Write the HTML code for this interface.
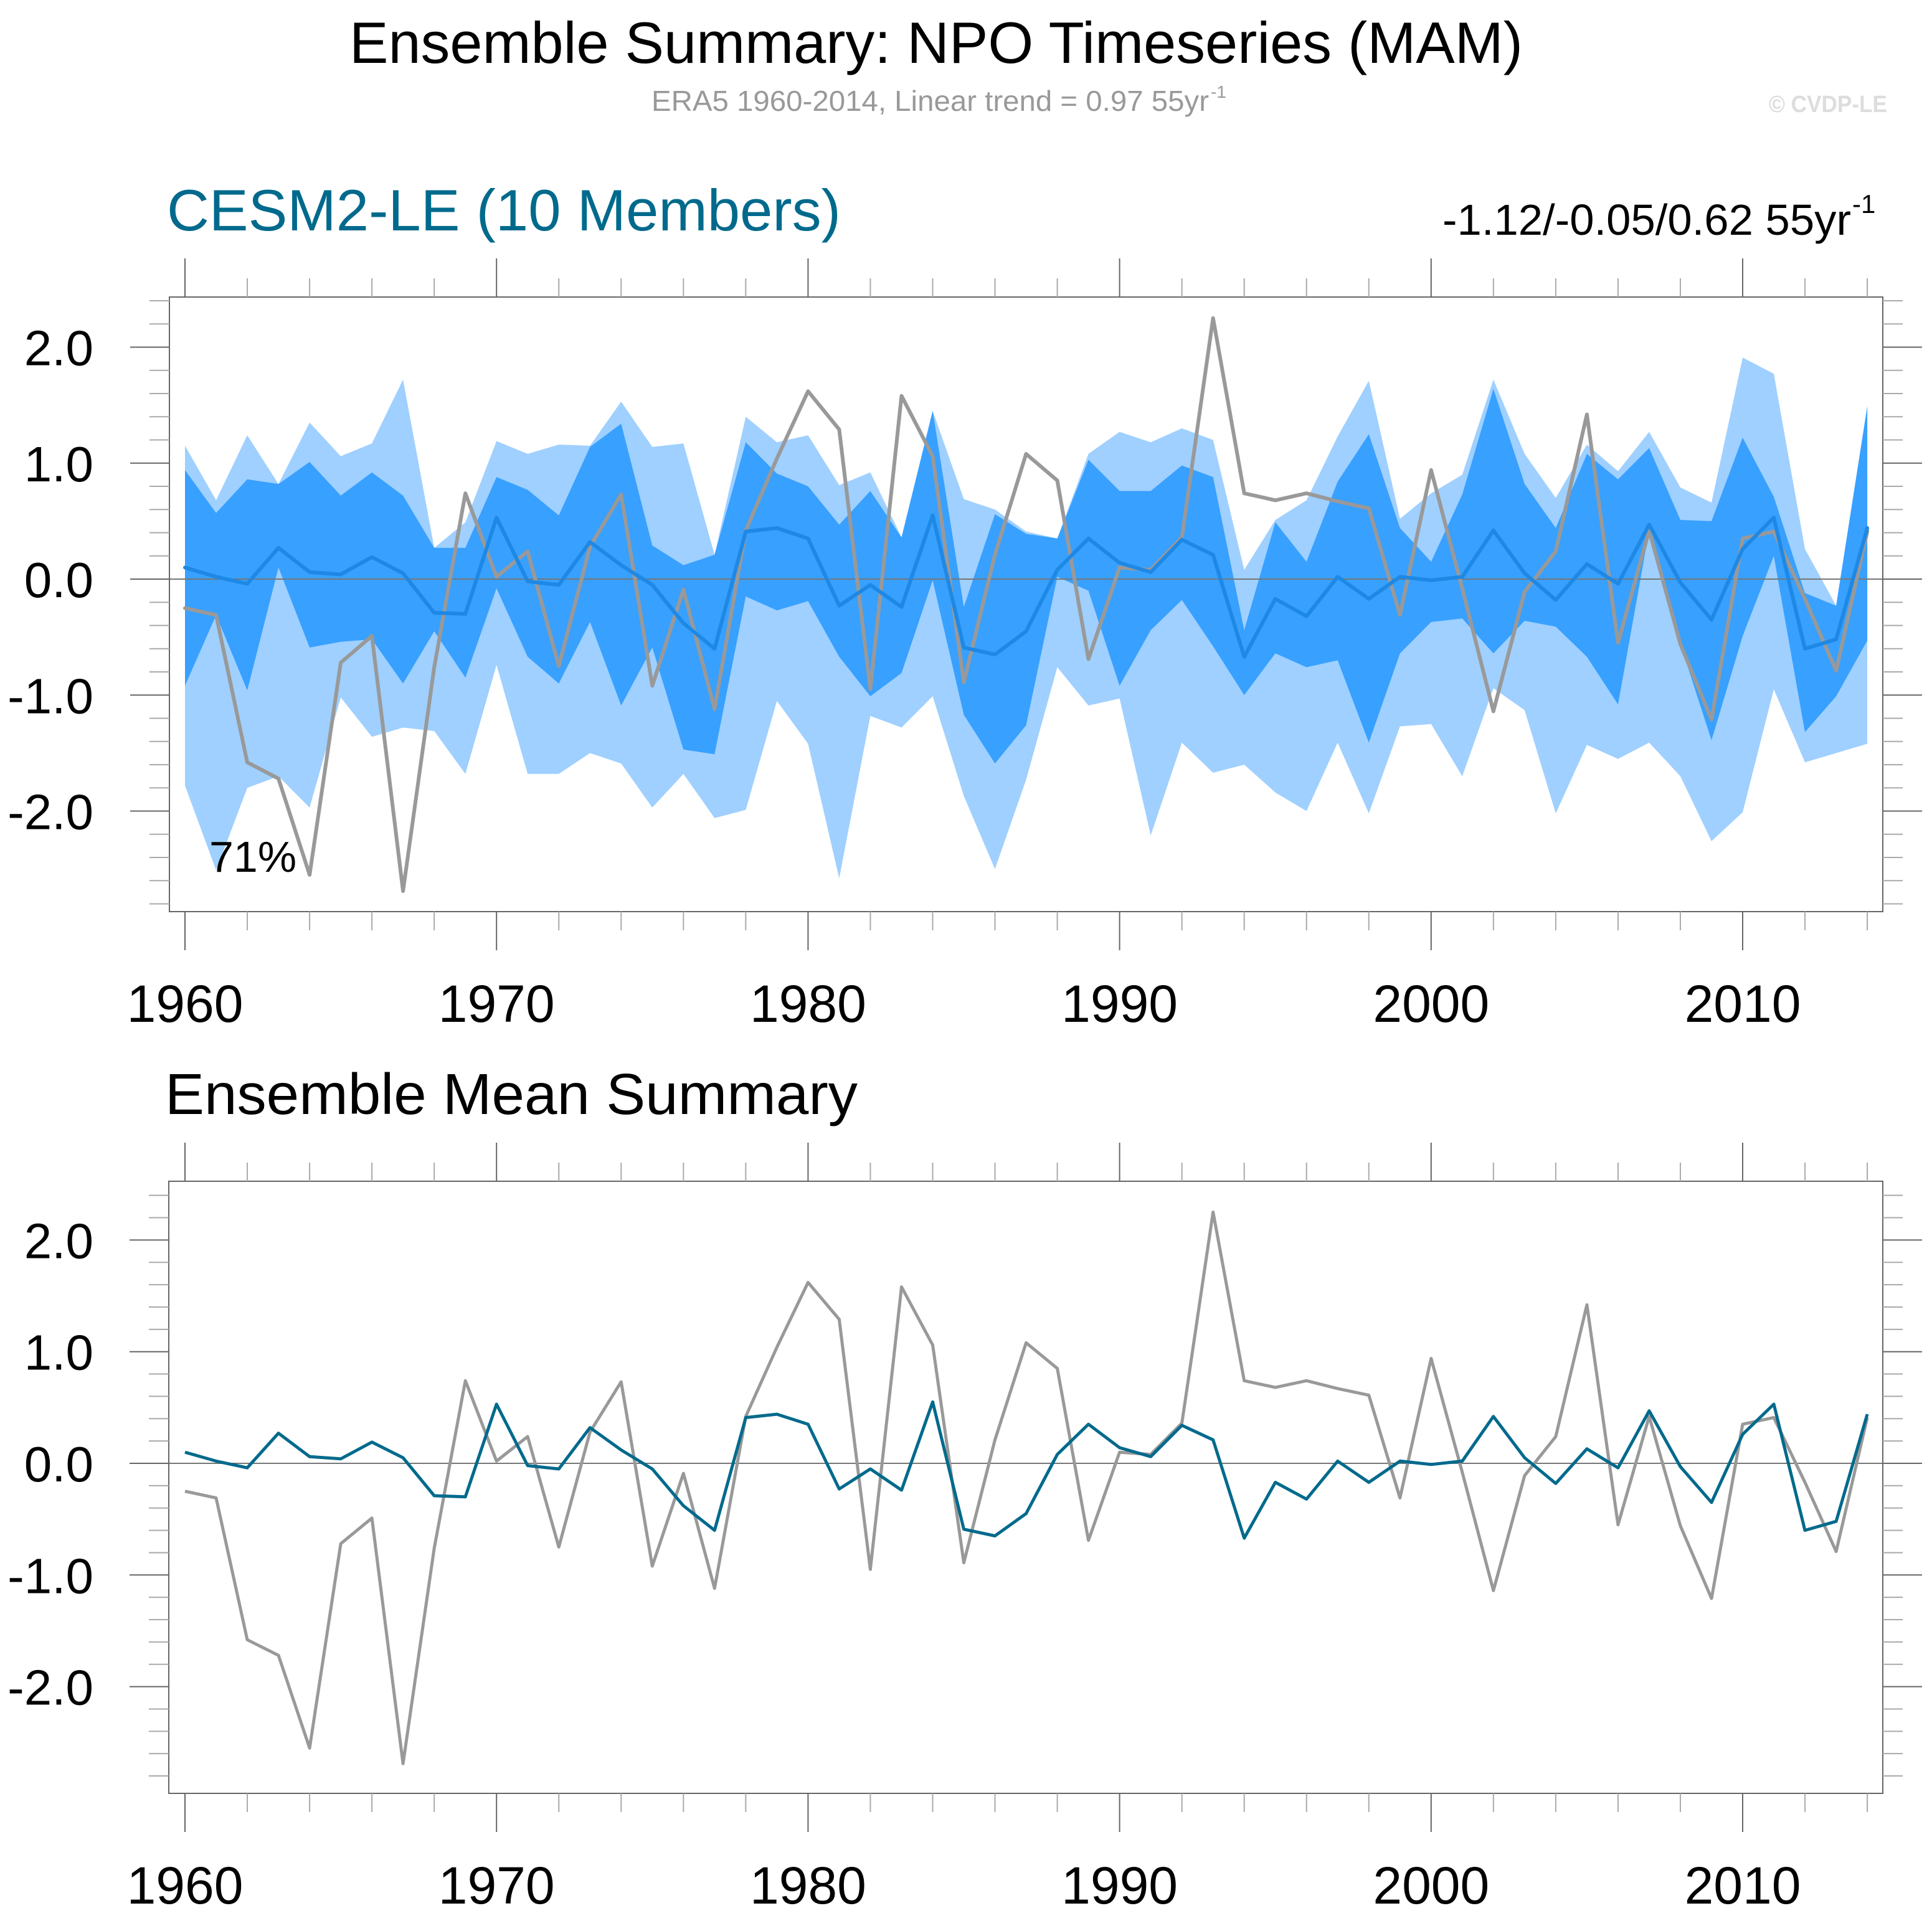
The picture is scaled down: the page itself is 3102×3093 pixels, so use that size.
<!DOCTYPE html>
<html><head><meta charset="utf-8"><style>
html,body{margin:0;padding:0;background:#fff;}
svg{display:block;font-family:"Liberation Sans",sans-serif;}
</style></head><body>
<svg id="chart" width="3102" height="3093" viewBox="0 0 3102 3093" xmlns="http://www.w3.org/2000/svg">
<text x="1503" y="101" font-size="94" text-anchor="middle" textLength="1884" lengthAdjust="spacingAndGlyphs">Ensemble Summary: NPO Timeseries (MAM)</text>
<text x="1046" y="178" font-size="46" fill="#999" textLength="895" lengthAdjust="spacingAndGlyphs">ERA5 1960-2014, Linear trend = 0.97 55yr</text>
<text x="1944" y="157" font-size="28" fill="#999">-1</text>
<text x="2840" y="180" font-size="38" font-weight="bold" fill="#ddd" textLength="190" lengthAdjust="spacingAndGlyphs">© CVDP-LE</text>
<text x="268" y="370" font-size="94" fill="#006a8c" textLength="1082" lengthAdjust="spacingAndGlyphs">CESM2-LE (10 Members)</text>
<text x="2316" y="377" font-size="70" textLength="656" lengthAdjust="spacingAndGlyphs">-1.12/-0.05/0.62 55yr</text>
<text x="2974" y="342" font-size="42">-1</text>
<text x="265" y="1789" font-size="93" textLength="1112" lengthAdjust="spacingAndGlyphs">Ensemble Mean Summary</text>
<g id="p1"></g><g id="p2"></g>
</svg>
<script>
const years = [];
for (let y = 1960; y <= 2014; y++) years.push(y);
const obs = [-0.25,-0.31,-1.58,-1.72,-2.55,-0.72,-0.49,-2.69,-0.76,0.74,0.02,0.24,-0.75,0.28,0.73,-0.92,-0.09,-1.12,0.42,1.04,1.62,1.29,-0.95,1.58,1.06,-0.89,0.21,1.08,0.85,-0.69,0.10,0.08,0.36,2.25,0.74,0.68,0.74,0.67,0.61,-0.31,0.94,-0.08,-1.14,-0.11,0.24,1.42,-0.55,0.42,-0.56,-1.21,0.35,0.41,-0.17,-0.79,0.41];
const ensMean = [0.10,0.02,-0.04,0.27,0.06,0.04,0.19,0.05,-0.29,-0.30,0.53,-0.02,-0.05,0.32,0.12,-0.05,-0.38,-0.60,0.41,0.44,0.35,-0.23,-0.05,-0.24,0.55,-0.59,-0.65,-0.45,0.08,0.35,0.14,0.06,0.34,0.21,-0.67,-0.17,-0.32,0.02,-0.17,0.02,-0.01,0.02,0.42,0.05,-0.18,0.13,-0.04,0.47,-0.03,-0.35,0.26,0.53,-0.60,-0.52,0.44];
const innerTop = [0.94,0.57,0.86,0.82,1.01,0.72,0.92,0.72,0.27,0.27,0.88,0.77,0.55,1.14,1.34,0.29,0.12,0.21,1.18,0.91,0.80,0.47,0.76,0.36,1.45,-0.24,0.56,0.39,0.35,1.03,0.76,0.76,0.98,0.88,-0.44,0.49,0.15,0.84,1.25,0.44,0.15,0.73,1.64,0.82,0.44,1.08,0.86,1.13,0.51,0.50,1.22,0.71,-0.12,-0.23,1.49];
const innerBot = [-0.92,-0.31,-0.96,0.10,-0.59,-0.54,-0.52,-0.90,-0.45,-0.85,-0.08,-0.67,-0.90,-0.37,-1.09,-0.59,-1.47,-1.51,-0.15,-0.27,-0.19,-0.67,-1.01,-0.81,-0.01,-1.17,-1.59,-1.26,0.02,-0.10,-0.92,-0.44,-0.18,-0.58,-1.00,-0.64,-0.76,-0.70,-1.41,-0.64,-0.37,-0.34,-0.64,-0.36,-0.41,-0.67,-1.08,0.42,-0.56,-1.39,-0.49,0.20,-1.32,-1.01,-0.53];
const outerTop = [1.15,0.68,1.24,0.82,1.35,1.06,1.17,1.72,0.27,0.49,1.19,1.08,1.16,1.15,1.53,1.14,1.17,0.21,1.40,1.18,1.24,0.81,0.92,0.36,1.45,0.69,0.60,0.41,0.35,1.08,1.27,1.18,1.30,1.20,0.08,0.51,0.68,1.23,1.71,0.52,0.74,0.90,1.72,1.08,0.70,1.16,0.93,1.27,0.79,0.66,1.91,1.77,0.26,-0.23,1.49];
const outerBot = [-1.78,-2.51,-1.80,-1.70,-1.97,-1.02,-1.36,-1.28,-1.31,-1.68,-0.74,-1.68,-1.68,-1.50,-1.59,-1.97,-1.68,-2.06,-1.99,-1.05,-1.42,-2.58,-1.18,-1.28,-1.01,-1.87,-2.50,-1.73,-0.76,-1.09,-1.03,-2.21,-1.41,-1.67,-1.60,-1.84,-2.00,-1.41,-2.02,-1.27,-1.25,-1.70,-0.94,-1.13,-2.02,-1.43,-1.55,-1.41,-1.70,-2.26,-2.01,-0.95,-1.58,-1.50,-1.42];
const yTickLabels = ["-2.0","-1.0","0.0","1.0","2.0"];
const xTickLabels = ["1960","1970","1980","1990","2000","2010"];

const NS = "http://www.w3.org/2000/svg";
function mk(parent, tag, attrs) {
  const e = document.createElementNS(NS, tag);
  for (const k in attrs) e.setAttribute(k, attrs[k]);
  parent.appendChild(e);
  return e;
}
function xScale(yr) { return 297 + (yr - 1960) * 50.02; }
function drawPanel(g, fr, yZero, yUnit, withBands) {
  const yS = v => yZero - v * yUnit;
  const pts = arr => arr.map((v, i) => xScale(years[i]).toFixed(1) + "," + yS(v).toFixed(1)).join(" ");
  const band = (lo, hi) => pts(hi) + " " + lo.map((v, i) => [xScale(years[i]).toFixed(1), yS(v).toFixed(1)]).reverse().map(p => p.join(",")).join(" ");
  const fb = mk(g, "rect", {x: fr.l, y: fr.t, width: fr.r - fr.l, height: fr.b - fr.t, fill: "#fff", stroke: "none"});
  
  
  if (withBands) {
    const ob = mk(g, "polygon", {points: band(outerBot, outerTop), fill: "#9fd0ff"});
    
    
    const ib = mk(g, "polygon", {points: band(innerBot, innerTop), fill: "#38a0ff"});
    
    
  }
  const zl = mk(g, "line", {x1: fr.l, x2: fr.r, y1: yZero, y2: yZero, stroke: "#777", "stroke-width": 2});
  
  
  if (withBands) {
    const ol = mk(g, "polyline", {points: pts(obs), fill: "none", stroke: "#999", "stroke-width": 6, "stroke-linejoin": "round", "stroke-linecap": "round"});
    
    
    const ml = mk(g, "polyline", {points: pts(ensMean), fill: "none", stroke: "#1e88e5", "stroke-width": 6, "stroke-linejoin": "round", "stroke-linecap": "round"});
    
    
  } else {
    const ol = mk(g, "polyline", {points: pts(obs), fill: "none", stroke: "#999", "stroke-width": 5, "stroke-linejoin": "round"});
    
    
    const ml = mk(g, "polyline", {points: pts(ensMean), fill: "none", stroke: "#006a8c", "stroke-width": 5, "stroke-linejoin": "round"});
    
    
  }
  const fr2 = mk(g, "rect", {x: fr.l, y: fr.t, width: fr.r - fr.l, height: fr.b - fr.t, fill: "none", stroke: "#666", "stroke-width": 2});
  
  
  for (let yr = 1960; yr <= 2014; yr += 2) {
    const x = xScale(yr), major = yr % 10 === 0;
    const t1 = mk(g, "line", {x1: x, x2: x, y1: major ? fr.t - 62 : fr.t - 30, y2: fr.t, stroke: major ? "#666" : "#aaa", "stroke-width": 2});
    
    
    const t2 = mk(g, "line", {x1: x, x2: x, y1: fr.b, y2: major ? fr.b + 62 : fr.b + 30, stroke: major ? "#666" : "#aaa", "stroke-width": 2});
    
    
  }
  xTickLabels.forEach(lab => {
    const t = mk(g, "text", {x: xScale(+lab), y: fr.b + 177, "font-size": 84, "text-anchor": "middle"});
    t.textContent = lab;
    
    
  });
  for (let k = -14; k <= 12; k++) {
    const v = k / 5, y = yS(v), major = k % 5 === 0;
    const a = mk(g, "line", {x1: major ? fr.l - 63 : fr.l - 32, x2: fr.l, y1: y, y2: y, stroke: major ? "#666" : "#aaa", "stroke-width": 2});
    
    
    const b = mk(g, "line", {x1: fr.r, x2: major ? fr.r + 63 : fr.r + 32, y1: y, y2: y, stroke: major ? "#666" : "#aaa", "stroke-width": 2});
    
    
  }
  yTickLabels.forEach(lab => {
    const t = mk(g, "text", {x: 150, y: yS(+lab) + 29, "font-size": 80, "text-anchor": "end"});
    t.textContent = lab;
    
    
  });
}
drawPanel(document.getElementById("p1"), {l: 272, r: 3023, t: 477, b: 1464}, 930, 186.25, true);
drawPanel(document.getElementById("p2"), {l: 271, r: 3023, t: 1897, b: 2880}, 2350, 179.3, false);
const pct = mk(document.getElementById("p1"), "text", {x: 336, y: 1400, "font-size": 70});
pct.textContent = "71%";


</script>
</body></html>
